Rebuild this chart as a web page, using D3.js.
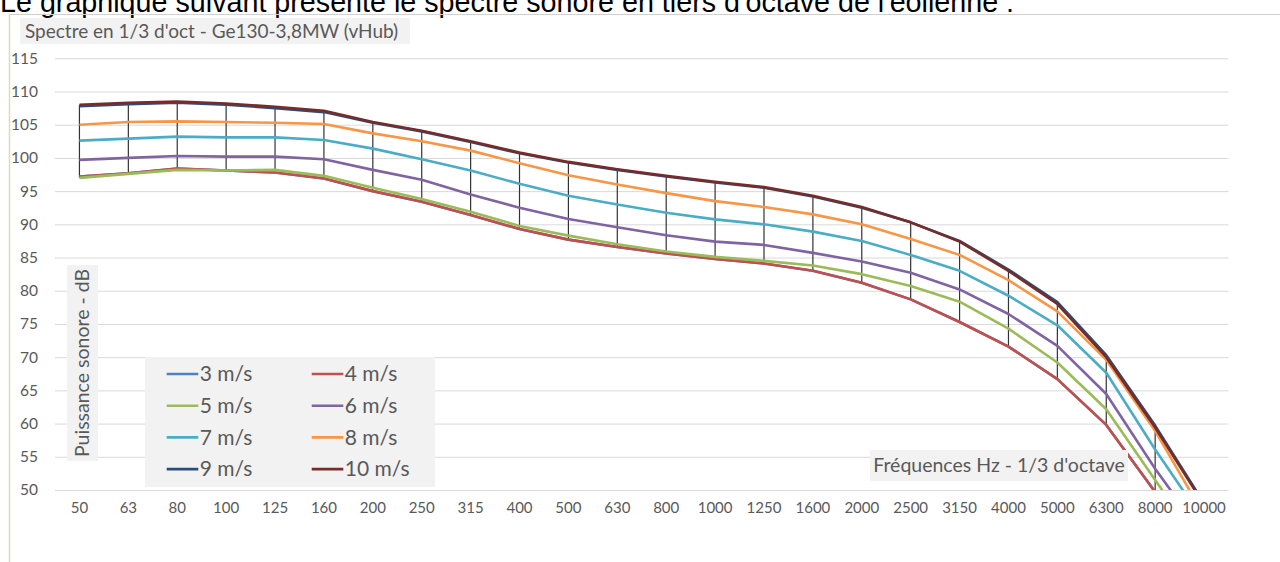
<!DOCTYPE html>
<html lang="fr">
<head>
<meta charset="utf-8">
<script src="https://d3js.org/d3.v7.min.js"></script>
<style>
  body { margin: 0; background: #fff; }
  svg text { font-family: Lato, "Open Sans", sans-serif; fill: #595959; }
</style>
</head>
<body>
<script>
// frequences en tiers d'octave
const freqs = ["50","63","80","100","125","160","200","250","315","400","500","630","800",
  "1000","1250","1600","2000","2500","3150","4000","5000","6300","8000","10000"];
const yTicks = [50,55,60,65,70,75,80,85,90,95,100,105,110,115];

// niveaux (dB)
const s4  = [97.2,97.7,98.4,98.1,97.8,96.9,95.0,93.4,91.4,89.3,87.7,86.6,85.6,84.8,84.1,83.0,81.2,78.7,75.3,71.6,66.7,59.8,49.7,38.0];
const s3  = s4.slice(); // 3 m/s : confondu avec 4 m/s (masque)
const s5  = [97.0,97.6,98.2,98.1,98.2,97.3,95.5,93.8,91.9,89.75,88.3,87.0,85.9,85.1,84.5,83.8,82.5,80.7,78.35,74.3,69.2,62.15,51.5,41.0];
const s6  = [99.7,100.0,100.3,100.2,100.2,99.8,98.2,96.7,94.5,92.5,90.8,89.55,88.35,87.4,86.9,85.7,84.4,82.7,80.2,76.5,71.7,64.45,53.2,43.0];
const s7  = [102.6,102.9,103.2,103.1,103.1,102.7,101.4,99.8,98.1,96.1,94.3,93.0,91.75,90.75,90.0,88.9,87.5,85.4,83.0,79.25,74.8,67.65,56.1,45.3];
const s8  = [105.0,105.4,105.5,105.4,105.3,105.1,103.7,102.5,101.1,99.2,97.4,96.0,94.7,93.5,92.6,91.5,90.0,87.8,85.4,81.6,76.9,69.6,58.9,46.2];
const s9  = [107.8,108.1,108.3,108.0,107.5,106.9,105.3,104.0,102.4,100.7,99.3,98.2,97.2,96.3,95.5,94.2,92.5,90.3,87.5,83.2,78.3,70.3,59.7,48.0];
const s10 = [108.0,108.3,108.5,108.2,107.7,107.1,105.4,104.1,102.5,100.8,99.4,98.3,97.3,96.4,95.6,94.3,92.6,90.3,87.4,83.0,78.0,70.0,59.4,47.8];

const seriesNames = ["3 m/s","4 m/s","5 m/s","6 m/s","7 m/s","8 m/s","9 m/s","10 m/s"];
const seriesVals = [s3,s4,s5,s6,s7,s8,s9,s10];
const colors = ["#4F81BD","#C0504D","#9BBB59","#8064A2","#4BACC6","#F79646","#2C4D75","#772C2A"];

const W = 1280, H = 562;
const pLeft = 55, pRight = 1228.5, pTop = 58.3, pBottom = 490;

const svg = d3.select("body").append("svg")
  .attr("width", W).attr("height", H);

// phrase du document, coupee en haut
svg.append("text")
  .attr("x", 0).attr("y", 12)
  .style("font-family", "'Liberation Sans', Arial, sans-serif")
  .style("font-size", "28.7px").style("fill", "#000")
  .text("Le graphique suivant présente le spectre sonore en tiers d'octave de l'éolienne :");

// cadre du graphique
svg.append("line").attr("x1", 9).attr("x2", W).attr("y1", 14.5).attr("y2", 14.5)
  .attr("stroke", "#d0d0d0").attr("stroke-width", 1);
svg.append("line").attr("x1", 9.5).attr("x2", 9.5).attr("y1", 14).attr("y2", H)
  .attr("stroke", "#dedcb0").attr("stroke-width", 1.5);

const x = d3.scaleBand().domain(freqs).range([pLeft, pRight]).padding(0);
const y = d3.scaleLinear().domain([50, 115]).range([pBottom, pTop]);
const cx = d => x(d) + x.bandwidth() / 2;

// grille
svg.append("g")
  .attr("transform", "translate(" + pLeft + ",0)")
  .call(d3.axisLeft(y).tickValues(yTicks).tickSize(-(pRight - pLeft)).tickFormat(""))
  .call(g => g.select(".domain").remove())
  .call(g => g.selectAll("line").attr("stroke", "#d9d9d9").attr("stroke-width", 1));

// axe Y
svg.append("g")
  .attr("transform", "translate(" + pLeft + ",0)")
  .call(d3.axisLeft(y).tickValues(yTicks).tickSize(0).tickPadding(17))
  .call(g => g.select(".domain").remove())
  .call(g => g.selectAll("text").style("font-size", "15.5px").style("fill", "#595959"));

// axe X
svg.append("g")
  .attr("transform", "translate(0," + pBottom + ")")
  .call(d3.axisBottom(x).tickSize(0).tickPadding(12))
  .call(g => g.select(".domain").remove())
  .call(g => g.selectAll("text").style("font-size", "15px").style("fill", "#595959"));

svg.append("clipPath").attr("id", "plot")
  .append("rect").attr("x", pLeft).attr("y", pTop)
  .attr("width", pRight - pLeft).attr("height", pBottom - pTop);

const plot = svg.append("g").attr("clip-path", "url(#plot)");

// lignes de projection (max -> min)
plot.append("g").selectAll("line")
  .data(freqs)
  .join("line")
  .attr("x1", cx).attr("x2", cx)
  .attr("y1", (d, i) => y(d3.max(seriesVals, s => s[i])))
  .attr("y2", (d, i) => y(d3.min(seriesVals, s => s[i])))
  .attr("stroke", "#333").attr("stroke-width", 1.2);

const line = d3.line().x((v, i) => cx(freqs[i])).y(v => y(v));

plot.append("g").selectAll("path")
  .data(seriesVals)
  .join("path")
  .attr("fill", "none")
  .attr("stroke", (d, i) => colors[i])
  .attr("stroke-width", 2.6)
  .attr("stroke-linejoin", "round")
  .attr("d", line);

// titre du graphique
svg.append("rect").attr("x", 20).attr("y", 18).attr("width", 390).attr("height", 26)
  .attr("fill", "#f2f2f2");
svg.append("text").attr("x", 25).attr("y", 38)
  .style("font-size", "19px")
  .text("Spectre en 1/3 d'oct - Ge130-3,8MW (vHub)");

// titre axe Y
svg.append("rect").attr("x", 67).attr("y", 265).attr("width", 31).attr("height", 196)
  .attr("fill", "#f2f2f2");
svg.append("text")
  .attr("transform", "translate(89,363) rotate(-90)")
  .attr("text-anchor", "middle")
  .style("font-size", "19.5px")
  .text("Puissance sonore - dB");

// titre axe X
svg.append("rect").attr("x", 870).attr("y", 450).attr("width", 258).attr("height", 31)
  .attr("fill", "#f2f2f2");
svg.append("text").attr("x", 999).attr("y", 472)
  .attr("text-anchor", "middle")
  .style("font-size", "19.5px")
  .text("Fréquences Hz - 1/3 d'octave");

// legende
const legend = svg.append("g");
legend.append("rect").attr("x", 145).attr("y", 357).attr("width", 290).attr("height", 130)
  .attr("fill", "#f2f2f2");
const item = legend.selectAll("g.item")
  .data(seriesNames)
  .join("g").attr("class", "item")
  .attr("transform", (d, i) => "translate(" + (i % 2 ? 311.7 : 166.7) + "," + (374 + Math.floor(i / 2) * 31.7) + ")");
item.append("line").attr("x1", 0).attr("x2", 31.6)
  .attr("stroke", (d, i) => colors[i]).attr("stroke-width", 2.6);
item.append("text").attr("x", 33).attr("dy", "0.35em")
  .style("font-size", "21px")
  .text(d => d);
</script>
</body>
</html>
